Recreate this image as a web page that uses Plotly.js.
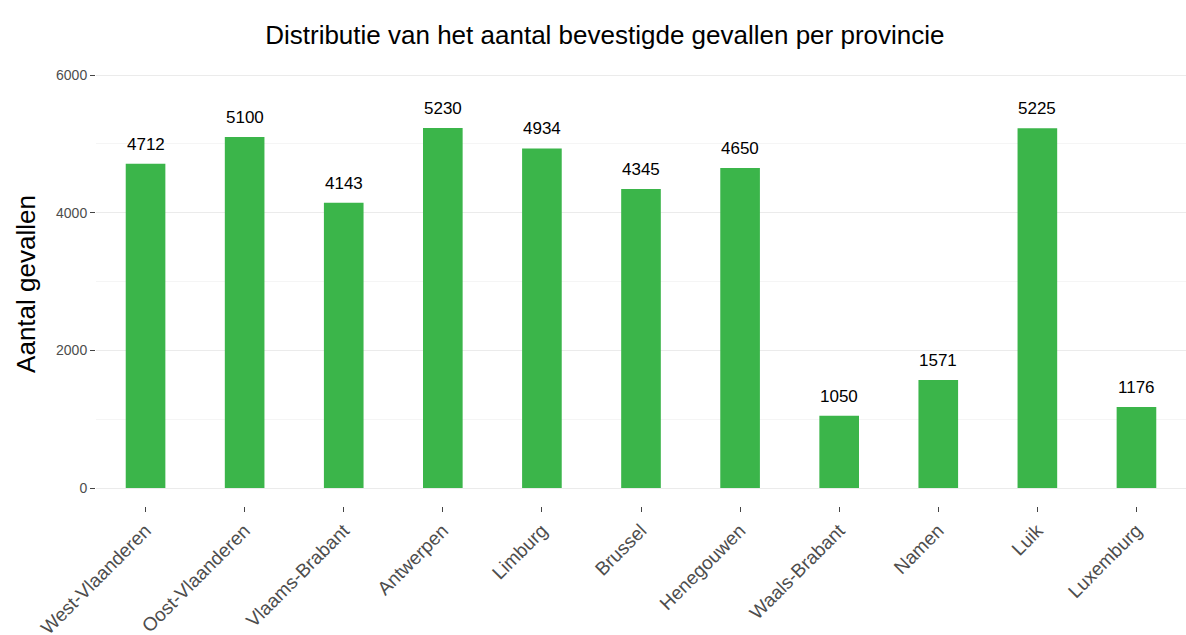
<!DOCTYPE html>
<html>
<head>
<meta charset="utf-8">
<script src="https://cdn.plot.ly/plotly-3.0.1.min.js"></script>
<style>body{margin:0;background:#fff}#chart{width:1186px;height:635px}</style>
</head>
<body>
<div id="chart"></div>
<script>
const provinces = ['West-Vlaanderen', 'Oost-Vlaanderen', 'Vlaams-Brabant', 'Antwerpen', 'Limburg',
    'Brussel', 'Henegouwen', 'Waals-Brabant', 'Namen', 'Luik', 'Luxemburg'];
const cases = [4712, 5100, 4143, 5230, 4934, 4345, 4650, 1050, 1571, 5225, 1176];

const trace = {
    type: 'bar',
    x: provinces,
    y: cases,
    width: 0.4,
    marker: {color: '#3bb54a'},
    hoverinfo: 'x+y'
};

// value labels sit a bit above each bar
const labels = provinces.map((p, i) => ({
    x: p, y: cases[i], text: String(cases[i]),
    showarrow: false, yanchor: 'bottom', yshift: 8,
    font: {family: 'Liberation Sans, Arial', size: 17, color: '#000'}
}));

const layout = {
    width: 1186,
    height: 635,
    paper_bgcolor: '#fff',
    plot_bgcolor: '#fff',
    margin: {l: 96, r: 0, t: 62, b: 129},
    font: {family: 'Liberation Sans, Arial'},
    title: {text: 'Distributie van het aantal bevestigde gevallen per provincie',
        x: 0.51, xanchor: 'center', y: 0.96, font: {size: 26, color: '#000'}},
    xaxis: {
        tickangle: -45,
        tickfont: {size: 19, color: '#4d4d4d'},
        ticks: 'outside', ticklen: 5, tickcolor: '#444',
        showgrid: false, zeroline: false
    },
    yaxis: {
        title: {text: 'Aantal gevallen', font: {size: 26, color: '#000'}, standoff: 12},
        range: [-261, 6189],
        tickvals: [0, 2000, 4000, 6000],
        tickfont: {size: 14, color: '#4d4d4d'},
        ticks: 'outside', ticklen: 5, tickcolor: '#444',
        gridcolor: '#ebebeb', zeroline: false,
        minor: {tickvals: [1000, 3000, 5000], showgrid: true, gridcolor: '#f5f5f5', ticks: ''}
    },
    annotations: labels,
    showlegend: false
};

Plotly.newPlot('chart', [trace], layout, {displayModeBar: false});
</script>
</body>
</html>
